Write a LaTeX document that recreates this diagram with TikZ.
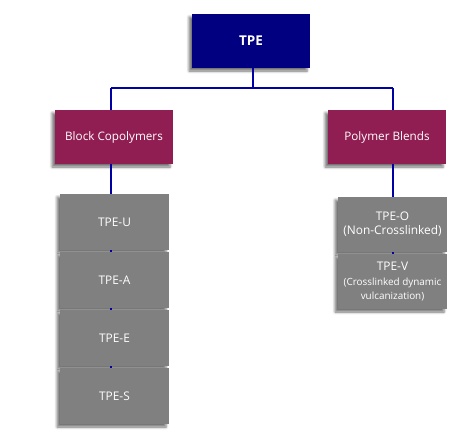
\documentclass[tikz,border=0pt]{standalone}
\usepackage{fontspec}
\setmainfont{Open Sans}
\usetikzlibrary{shadows.blur,calc}
\definecolor{navybox}{RGB}{0,0,128}
\definecolor{lineblue}{RGB}{0,0,165}
\definecolor{plum}{RGB}{145,30,82}
\definecolor{greybox}{RGB}{128,128,128}
\begin{document}
\begin{tikzpicture}[x=1pt,y=-1pt,
  shad/.style={blur shadow={shadow xshift=-3pt,shadow yshift=-3pt,shadow blur radius=2.5pt,shadow opacity=55}},
  tpebox/.style={shad,fill=navybox,text=white,minimum width=118pt,minimum height=54pt,inner sep=0pt,font=\fontsize{13.5}{16}\selectfont\bfseries},
  catbox/.style={shad,fill=plum,text=white,minimum width=118pt,minimum height=54pt,inner sep=0pt,font=\fontsize{11.7}{14}\selectfont},
  subbox/.style={shad,fill=greybox,text=white,minimum width=109pt,inner sep=0pt,align=center,font=\fontsize{11.9}{14}\selectfont},
  conn/.style={draw=lineblue,line width=1.6pt}]
\useasboundingbox (0,0) rectangle (460,439);
\coordinate (jt) at (253,88);
\coordinate (jl) at (111,88);
\coordinate (jr) at (393,88);
\node[tpebox] (tpe) at (251,41) {TPE};
\draw[conn] (tpe.south -| jt) -- (jt);
\draw[conn] (jl) -- (jr);
\draw[conn] (jl) -- (111,110);
\draw[conn] (jr) -- (393,110);
\node[catbox] (bc) at (114,137) {Block Copolymers};
\node[catbox] (pb) at (387,137) {Polymer Blends};
\draw[conn] (bc.south -| jl) -- (111,196);
\draw[conn] (pb.south -| jr) -- (393,199);
\node[subbox,minimum height=56pt] (tpeu) at (114.5,222) {TPE-U};
\node[subbox,minimum height=56pt] (tpea) at (114.5,280) {TPE-A};
\node[subbox,minimum height=56pt] (tpee) at (114.5,338) {TPE-E};
\node[subbox,minimum height=56pt] (tpes) at (114.5,396) {TPE-S};
\draw[conn] (tpeu.south -| jl) -- (tpea.north -| jl);
\draw[conn] (tpea.south -| jl) -- (tpee.north -| jl);
\draw[conn] (tpee.south -| jl) -- (tpes.north -| jl);
\node[subbox,minimum height=55pt] (tpeo) at (392.5,224.5) {TPE-O\\(Non-Crosslinked)};
\node[subbox,minimum height=55pt] (tpev) at (392.5,281.5) {TPE-V\\[1pt]{\fontsize{9.9}{11.5}\selectfont (Crosslinked dynamic}\\{\fontsize{9.9}{11.5}\selectfont vulcanization)}};
\draw[conn] (tpeo.south -| jr) -- (tpev.north -| jr);
\end{tikzpicture}
\end{document}
